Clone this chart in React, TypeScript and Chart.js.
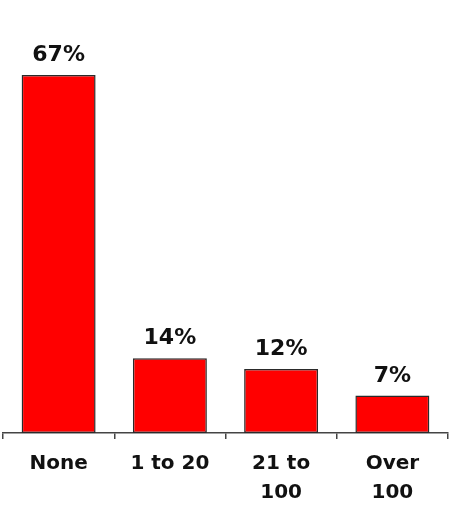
import React, { useEffect, useRef } from "react";
import { Chart, registerables } from "chart.js";

Chart.register(...registerables);

const categories: (string | string[])[] = ["None", "1 to 20", ["21 to", "100"], ["Over", "100"]];
const values: number[] = [67, 14, 12, 7];
const valueLabels: string[] = ["67%", "14%", "12%", "7%"];

const FONT = "'DejaVu Sans', Arial, sans-serif";

const valueLabelPlugin = {
  id: "valueLabels",
  afterDatasetsDraw(chart: any) {
    const ctx = chart.ctx;
    const meta = chart.getDatasetMeta(0);
    ctx.save();
    ctx.font = `bold 22px ${FONT}`;
    ctx.fillStyle = "#111111";
    ctx.textAlign = "center";
    ctx.textBaseline = "alphabetic";
    meta.data.forEach((bar: any, i: number) => {
      ctx.fillText(valueLabels[i], bar.x, bar.y - 14);
    });
    ctx.restore();
  },
};

export default function App() {
  const ref = useRef<HTMLCanvasElement>(null);
  useEffect(() => {
    if (!ref.current) return;
    const chart = new Chart(ref.current, {
      type: "bar",
      data: {
        labels: categories as any,
        datasets: [
          {
            data: values,
            backgroundColor: "#FF0000",
            borderColor: "#2a2a2a",
            borderWidth: 1.5,
            borderSkipped: false,
            categoryPercentage: 1,
            barPercentage: 0.665,
          },
        ],
      },
      options: {
        animation: false,
        responsive: false,
        maintainAspectRatio: false,
        layout: { padding: { left: 3, right: 1, top: 5.6, bottom: 0 } },
        plugins: { legend: { display: false }, tooltip: { enabled: false } },
        scales: {
          y: { display: false, min: 0, max: 80 },
          x: {
            offset: true,
            border: { display: true, color: "#444444", width: 1.5 },
            grid: {
              display: true,
              drawOnChartArea: false,
              drawTicks: true,
              tickLength: 6,
              color: "#444444",
              lineWidth: 1.5,
              offset: true,
            },
            ticks: {
              color: "#111111",
              font: { family: FONT, size: 20, weight: "bold", lineHeight: 1.45 },
              padding: 10,
              maxRotation: 0,
              autoSkip: false,
            },
            afterFit: (scale: any) => {
              scale.height = 75;
            },
          },
        },
      },
      plugins: [valueLabelPlugin],
    });
    return () => chart.destroy();
  }, []);
  return (
    <div style={{ position: "absolute", left: 0, top: 0, width: 449, height: 508, background: "#fff" }}>
      <canvas ref={ref} width={449} height={508} style={{ display: "block" }} />
    </div>
  );
}
